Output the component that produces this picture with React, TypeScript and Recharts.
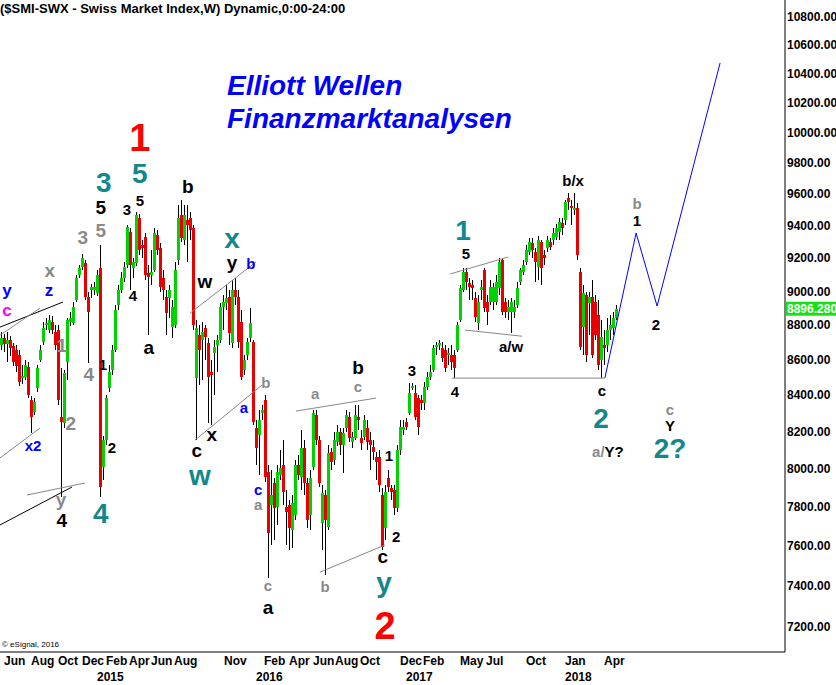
import React from "react";
import {
  ComposedChart,
  Bar,
  Line,
  XAxis,
  YAxis,
  ReferenceLine,
  ReferenceDot,
} from "recharts";

// weekly SMI candles (week 0 = first visible bar)
const opens = [
  8684, 8724, 8689, 8712, 8678, 8655, 8627, 8495, 8501, 8558,
  8372, 8305, 8439, 8598, 8701, 8800, 8771, 8817, 8759, 8771,
  8278, 8245, 8587, 8817, 8811, 8948, 9098, 9146, 9171, 8966,
  9007, 9007, 8989, 9140, 8007, 8152, 8439, 8541, 8655, 8918,
  9007, 9080, 9159, 9362, 9140, 9171, 9449, 9281, 9331, 9110,
  9098, 9128, 9343, 9262, 9080, 8966, 8960, 8788, 8800, 9189,
  9468, 9312, 9436, 9449, 9386, 8495, 8741, 8712, 8783, 8695,
  8530, 8638, 8684, 8712, 8906, 8930, 8966, 8695, 9007, 8966,
  8817, 8541, 8627, 8724, 8701, 8218, 8180, 8300, 8372, 7980,
  7808, 7923, 7798, 7965, 8018, 7798, 7808, 7679, 7756, 8018,
  7954, 8109, 7923, 7756, 8007, 8289, 8152, 7715, 7860, 7695,
  8087, 8045, 8142, 8196, 8125, 8218, 8278, 8142, 8163, 8278,
  8163, 8169, 8218, 8152, 8114, 8061, 8061, 7860, 7690, 7949,
  7897, 7886, 7792, 8098, 8207, 8250, 8300, 8439, 8411, 8383,
  8372, 8355, 8445, 8501, 8541, 8672, 8684, 8666, 8655, 8627,
  8627, 8627, 8655, 8829, 9007, 9116, 9050, 9037, 8960, 8811,
  9007, 9128, 8936, 8936, 8936, 8936, 9019, 9189, 8936, 8876,
  8876, 8876, 8918, 9056, 9116, 9177, 9238, 9293, 9238, 9146,
  9300, 9220, 9262, 9300, 9312, 9331, 9362, 9418, 9436, 9575,
  9524, 9499, 9511, 9116, 8788, 8977, 8930, 8966, 8936, 8859,
  8598, 8684, 8684, 8771, 8783, 8841,
];
const closes = [
  8724, 8689, 8712, 8666, 8587, 8564, 8473, 8507, 8570, 8400,
  8278, 8361, 8553, 8655, 8783, 8811, 8829, 8771, 8684, 8372,
  8250, 8524, 8829, 8841, 8906, 9080, 9140, 9201, 8966, 8876,
  9025, 9025, 9098, 7902, 8152, 8383, 8530, 8655, 8888, 9007,
  9080, 9146, 9393, 9159, 9177, 9468, 9250, 9262, 9098, 9086,
  9116, 9355, 9250, 9025, 9007, 8870, 9007, 8906, 9128, 9449,
  9324, 9468, 9405, 9374, 8800, 8783, 8655, 8759, 8730, 8501,
  8513, 8672, 8712, 8906, 8936, 8960, 8753, 9007, 8966, 8701,
  8501, 8598, 8701, 8811, 8250, 8109, 8261, 8316, 7954, 7664,
  7860, 7792, 7980, 8002, 7876, 7772, 7690, 7818, 8018, 7965,
  8109, 7923, 7731, 7949, 8300, 8152, 7923, 7871, 7731, 8082,
  8034, 8152, 8196, 8125, 8191, 8289, 8163, 8169, 8289, 8261,
  8136, 8261, 8142, 8125, 8087, 8034, 7912, 7592, 7876, 7902,
  7876, 7792, 8098, 8223, 8223, 8223, 8411, 8450, 8278, 8223,
  8355, 8445, 8501, 8530, 8666, 8684, 8695, 8610, 8553, 8638,
  8587, 8553, 8800, 9019, 9116, 9056, 9025, 9019, 8847, 8936,
  9025, 8900, 8876, 9025, 9025, 9056, 9177, 8876, 8876, 8906,
  8936, 8906, 9019, 9128, 9159, 9250, 9300, 9250, 9177, 9312,
  9140, 9201, 9312, 9269, 9355, 9386, 9424, 9386, 9549, 9549,
  9511, 9511, 9220, 8672, 8989, 8627, 8966, 8627, 8741, 8570,
  8730, 8666, 8771, 8800, 8841, 8896.28,
];
const highs = [
  8759, 8747, 8759, 8735, 8695, 8684, 8655, 8570, 8598, 8587,
  8394, 8383, 8570, 8684, 8817, 8841, 8859, 8853, 8800, 8800,
  8553, 8541, 8841, 8876, 8936, 9098, 9159, 9226, 9189, 8995,
  9044, 9056, 9128, 9281, 8174, 8400, 8570, 8684, 8918, 9037,
  9116, 9177, 9405, 9386, 9201, 9486, 9474, 9312, 9355, 9159,
  9250, 9386, 9374, 9293, 9128, 9007, 9037, 8948, 9177, 9530,
  9562, 9530, 9530, 9486, 9405, 8829, 8800, 8817, 8800, 8724,
  8598, 8712, 8741, 8930, 8977, 9037, 9007, 9068, 9080, 9007,
  8888, 8627, 8724, 8900, 8712, 8261, 8316, 8344, 8400, 8018,
  7991, 7949, 8018, 8098, 8152, 7886, 7834, 7860, 8045, 8071,
  8207, 8152, 7949, 7991, 8316, 8316, 8174, 7912, 7886, 8125,
  8109, 8196, 8234, 8218, 8218, 8316, 8305, 8196, 8344, 8344,
  8207, 8289, 8261, 8196, 8152, 8087, 8098, 7897, 7912, 7991,
  7912, 7912, 8125, 8261, 8261, 8272, 8467, 8467, 8456, 8400,
  8400, 8473, 8530, 8570, 8684, 8701, 8712, 8701, 8684, 8666,
  8684, 8655, 8817, 9037, 9140, 9140, 9080, 9068, 8995, 8977,
  9068, 9140, 8977, 9068, 9050, 9098, 9201, 9201, 8960, 8948,
  8960, 8948, 9056, 9140, 9189, 9281, 9324, 9324, 9262, 9336,
  9312, 9250, 9336, 9324, 9386, 9411, 9449, 9449, 9562, 9607,
  9562, 9607, 9543, 9140, 9037, 8995, 8995, 9068, 8977, 8948,
  8829, 8771, 8841, 8859, 8876, 8918,
];
const lows = [
  8655, 8644, 8587, 8621, 8564, 8530, 8450, 8462, 8484, 8383,
  8191, 8289, 8417, 8587, 8684, 8771, 8753, 8747, 8655, 8344,
  7850, 8218, 8484, 8794, 8800, 8936, 9080, 9128, 8948, 8581,
  8960, 8977, 8972, 7850, 7939, 8125, 8417, 8513, 8644, 8888,
  8989, 9056, 9140, 9007, 9080, 9152, 9220, 9201, 9068, 8741,
  9037, 9116, 9220, 8995, 8948, 8741, 8841, 8724, 8783, 9159,
  9300, 9281, 9177, 9312, 8771, 8152, 8456, 8484, 8598, 8245,
  8234, 8400, 8530, 8695, 8771, 8888, 8684, 8666, 8918, 8666,
  8484, 8513, 8598, 8701, 8234, 8018, 7965, 8261, 7928, 7438,
  7603, 7628, 7705, 7939, 7808, 7603, 7577, 7587, 7731, 7939,
  7886, 7860, 7690, 7679, 7991, 8125, 7902, 7577, 7452, 7679,
  7991, 8018, 8120, 8071, 7975, 8196, 8142, 8109, 8152, 8207,
  8098, 8152, 8098, 7991, 8045, 7939, 7876, 7577, 7628, 7876,
  7834, 7756, 7772, 8071, 8180, 8207, 8289, 8428, 8261, 8180,
  8316, 8316, 8428, 8484, 8530, 8627, 8655, 8587, 8530, 8570,
  8541, 8495, 8644, 8817, 8995, 9007, 8948, 8948, 8817, 8771,
  8948, 8876, 8800, 8918, 8888, 8918, 8977, 8859, 8841, 8829,
  8753, 8841, 8900, 9037, 9098, 9159, 9220, 9201, 9056, 9068,
  9037, 9159, 9238, 9250, 9281, 9312, 9312, 9343, 9405, 9499,
  9405, 9468, 9189, 8655, 8627, 8587, 8741, 8610, 8712, 8541,
  8495, 8570, 8644, 8712, 8741, 8829,
];

// month / year labels start at these week positions
const monthTicks = [1, 10, 19, 27, 35, 42.67, 50, 57.67, 74.33, 87.67, 96, 104, 111.33, 119.67, 133, 140.67, 153, 161.67, 175, 188, 201];
const monthLabels = ["Jun", "Aug", "Oct", "Dec", "Feb", "Apr", "Jun", "Aug", "Nov", "Feb", "Apr", "Jun", "Aug", "Oct", "Dec", "Feb", "May", "Jul", "Oct", "Jan", "Apr"];
const yearTicks = [32, 85, 135, 188];
const yearLabels = ["2015", "2016", "2017", "2018"];
const priceTicks = [7200, 7400, 7600, 7800, 8000, 8200, 8400, 8600, 8800, 9000, 9200, 9400, 9600, 9800, 10000, 10200, 10400, 10600, 10800];

// projected path (blue)
const projWeeks = [201.3, 211.7, 218.7, 239.7];
const projPrices = [8496, 9355, 8912, 10475];

// channel / trend lines: [week1, price1, week2, price2, colour]
const trendLines: [number, number, number, number, string][] = [
  [-0.33, 8788, 20.67, 8936, "#000"],
  [-0.33, 8741, 13, 8900, "#888"],
  [-0.33, 8056, 13, 8218, "#888"],
  [-0.33, 7705, 23.67, 7902, "#000"],
  [8.67, 7860, 28, 7923, "#888"],
  [63, 8870, 85, 9177, "#888"],
  [64.67, 8152, 87, 8456, "#888"],
  [98.3, 8311, 125, 8383, "#888"],
  [106.3, 7467, 128, 7603, "#888"],
  [150.3, 8495, 201.3, 8495, "#888"],
  [149.7, 9104, 169, 9207, "#888"],
  [154.7, 8771, 173.7, 8735, "#888"],
];

const RED = "#ff0000";
const TEAL = "#13888a";
const GRAY = "#8a8a8a";
const BLUE = "#0000ff";

const labelStyles: Record<string, { fill: string; size: number }> = {
  R: { fill: RED, size: 38 },
  T: { fill: TEAL, size: 28 },
  K: { fill: "#000", size: 15 },
  KL: { fill: "#000", size: 19 },
  G: { fill: GRAY, size: 15 },
  GL: { fill: GRAY, size: 19 },
  B: { fill: BLUE, size: 15 },
  BL: { fill: BLUE, size: 17 },
  M: { fill: "#ff00ff", size: 17 },
};

// wave labels: [text, week, price, style]
const waveLabels: [string, number, number, string][] = [
  ["1", 46.3, 9965, "R"],
  ["5", 46.3, 9730, "T"],
  ["3", 34.3, 9678, "T"],
  ["5", 46.3, 9560, "K"],
  ["5", 33.3, 9518, "KL"],
  ["3", 42, 9505, "K"],
  ["3", 27.3, 9330, "GL"],
  ["5", 33.3, 9374, "GL"],
  ["x", 16.3, 9128, "GL"],
  ["z", 16, 9007, "BL"],
  ["y", 2, 9007, "BL"],
  ["c", 2, 8888, "M"],
  ["1", 20.3, 8684, "GL"],
  ["4", 29.3, 8513, "GL"],
  ["4", 44, 8977, "K"],
  ["1", 34, 8575, "K"],
  ["2", 23.3, 8245, "GL"],
  ["x2", 10.7, 8125, "B"],
  ["2", 37, 8114, "K"],
  ["y", 20, 7834, "GL"],
  ["4", 20.3, 7726, "KL"],
  ["4", 33.3, 7762, "T"],
  ["a", 49.3, 8672, "KL"],
  ["b", 62.3, 9652, "KL"],
  ["w", 68, 9056, "KL"],
  ["x", 77, 9324, "T"],
  ["y", 77, 9171, "KL"],
  ["b", 83.3, 9165, "B"],
  ["b", 88.3, 8473, "G"],
  ["a", 81, 8333, "B"],
  ["x", 70.3, 8185, "KL"],
  ["c", 65.3, 8098, "KL"],
  ["w", 66.3, 7965, "T"],
  ["c", 85.7, 7891, "B"],
  ["a", 85.7, 7808, "G"],
  ["c", 89, 7399, "G"],
  ["a", 89, 7295, "KL"],
  ["2", 128, 7204, "R"],
  ["a", 104.7, 8411, "G"],
  ["b", 119, 8558, "KL"],
  ["c", 119, 8450, "G"],
  ["b", 108, 7394, "G"],
  ["1", 129.3, 8071, "K"],
  ["2", 131.7, 7645, "K"],
  ["c", 127.3, 7545, "KL"],
  ["y", 127.7, 7418, "T"],
  ["3", 137, 8541, "K"],
  ["4", 151.3, 8422, "K"],
  ["1", 154, 9374, "T"],
  ["5", 155, 9226, "K"],
  ["a/w", 170, 8678, "K"],
  ["b/x", 190.7, 9685, "K"],
  ["c", 200.3, 8428, "K"],
  ["2", 200, 8272, "T"],
  ["b", 212, 9543, "G"],
  ["1", 212, 9436, "K"],
  ["2", 218.3, 8806, "K"],
  ["c", 223, 8322, "G"],
  ["Y", 223, 8234, "K"],
  ["2?", 223, 8109, "T"],
];

const FONT = "'Liberation Sans', Arial, sans-serif";

const candles = opens.map((o, i) => ({
  k: i,
  open: o,
  close: closes[i],
  high: Math.max(highs[i], o, closes[i]),
  low: Math.min(lows[i], o, closes[i]),
}));
const projection = projWeeks.map((k, i) => ({ k, v: projPrices[i] }));
const lastClose = closes[closes.length - 1];

function Candle(props: any) {
  const { x, y, width, height, payload } = props;
  if (x == null || y == null || !payload) return null;
  const top = Math.min(y, y + height);
  const bot = Math.max(y, y + height);
  const lh = Math.log(payload.high);
  const ll = Math.log(payload.low);
  const py = (v: number) => (lh === ll ? top : top + ((bot - top) * (lh - Math.log(v))) / (lh - ll));
  const cx = Math.round(x + width / 2);
  const yo = py(payload.open);
  const yc = py(payload.close);
  const bt = Math.round(Math.min(yo, yc));
  const bb = Math.max(Math.round(Math.max(yo, yc)), bt + 1);
  const up = payload.close >= payload.open;
  return (
    <g>
      <line x1={cx + 0.5} x2={cx + 0.5} y1={Math.round(top)} y2={Math.round(bot)} stroke="#000" strokeWidth={1} />
      <rect x={cx - 1} y={bt} width={3} height={bb - bt} fill={up ? "#00d200" : "#e80000"} />
    </g>
  );
}

function MonthTick(props: any) {
  const { x, y, payload } = props;
  const i = monthTicks.indexOf(payload.value);
  return (
    <text x={x} y={y + 13} textAnchor="start" fontFamily={FONT} fontWeight="bold" fontSize={12} fill="#000">
      {monthLabels[i]}
    </text>
  );
}

function YearTick(props: any) {
  const { x, y, payload } = props;
  const i = yearTicks.indexOf(payload.value);
  return (
    <text x={x} y={y + 13} textAnchor="start" fontFamily={FONT} fontWeight="bold" fontSize={12} fill="#000">
      {yearLabels[i]}
    </text>
  );
}

function PriceTag(props: any) {
  const vb = props.viewBox;
  if (!vb) return null;
  const x = vb.x + vb.width + 1;
  return (
    <g>
      <rect x={x} y={vb.y - 7} width={52} height={14} fill="#16e016" />
      <text x={x + 1} y={vb.y + 4.5} fontFamily={FONT} fontWeight="bold" fontSize={12} fill="#fff">
        {lastClose.toFixed(3)}
      </text>
    </g>
  );
}

function waveShape(text: string, style: string) {
  return (p: any) => {
    const st = labelStyles[style];
    return (
      <text
        x={p.cx}
        y={p.cy}
        textAnchor="middle"
        dominantBaseline="central"
        fontFamily={FONT}
        fontWeight="bold"
        fontSize={st.size}
        fill={st.fill}
      >
        {text}
      </text>
    );
  };
}

function AYShape(p: any) {
  return (
    <text x={p.cx} y={p.cy} textAnchor="middle" dominantBaseline="central" fontFamily={FONT} fontWeight="bold" fontSize={15}>
      <tspan fill={GRAY}>a/</tspan>
      <tspan fill="#000">Y?</tspan>
    </text>
  );
}

export default function App() {
  return (
    <div style={{ position: "absolute", left: 0, top: 0, width: 836, height: 685, background: "#fff", fontFamily: FONT }}>
      <ComposedChart width={836} height={685} data={candles} margin={{ top: 0, right: 0, bottom: 0, left: 0 }}>
        <XAxis
          dataKey="k"
          type="number"
          domain={[-1 / 3, 261.333]}
          allowDataOverflow
          ticks={monthTicks}
          tick={<MonthTick />}
          tickLine={false}
          tickSize={0}
          tickMargin={0}
          interval={0}
          axisLine={{ stroke: "#000", strokeWidth: 1 }}
          height={16}
        />
        <XAxis
          xAxisId="yr"
          dataKey="k"
          type="number"
          domain={[-1 / 3, 261.333]}
          allowDataOverflow
          ticks={yearTicks}
          tick={<YearTick />}
          tickLine={false}
          tickSize={0}
          tickMargin={0}
          interval={0}
          axisLine={false}
          height={17}
        />
        <YAxis
          orientation="right"
          scale="log"
          type="number"
          domain={[7081, 10923]}
          allowDataOverflow
          ticks={priceTicks}
          interval={0}
          tickFormatter={(v: number) => v.toFixed(2)}
          tick={{ fill: "#000", fontSize: 12, fontWeight: "bold", fontFamily: FONT, textAnchor: "start" }}
          tickLine={false}
          tickSize={0}
          tickMargin={2}
          axisLine={{ stroke: "#000", strokeWidth: 1 }}
          width={51}
        />
        {trendLines.map(([k1, p1, k2, p2, c], i) => (
          <ReferenceLine
            key={"t" + i}
            segment={[
              { x: k1, y: p1 },
              { x: k2, y: p2 },
            ]}
            stroke={c}
            strokeWidth={1}
            ifOverflow="visible"
          />
        ))}
        <Bar
          dataKey={(d: any) => [d.low, d.high]}
          barSize={3}
          shape={<Candle />}
          isAnimationActive={false}
        />
        <Line
          data={projection}
          dataKey="v"
          type="linear"
          stroke={BLUE}
          strokeWidth={1}
          dot={false}
          activeDot={false}
          isAnimationActive={false}
        />
        <ReferenceLine y={lastClose} stroke="none" ifOverflow="visible" label={<PriceTag />} />
        {waveLabels.map(([t, k, p, s], i) => (
          <ReferenceDot key={"w" + i} x={k} y={p} r={0} ifOverflow="visible" shape={waveShape(t, s)} />
        ))}
        <ReferenceDot x={202.3} y={8093} r={0} ifOverflow="visible" shape={AYShape} />
      </ComposedChart>
      <div style={{ position: "absolute", left: 0, top: 1, fontSize: 13, fontWeight: "bold", whiteSpace: "nowrap", lineHeight: "15px" }}>
        ($SMI-SWX - Swiss Market Index,W) Dynamic,0:00-24:00
      </div>
      <div style={{ position: "absolute", left: 227, top: 70, fontSize: 28, fontWeight: "bold", fontStyle: "italic", color: BLUE, lineHeight: "32px", whiteSpace: "nowrap" }}>
        Elliott Wellen
      </div>
      <div style={{ position: "absolute", left: 227, top: 103, fontSize: 28, fontWeight: "bold", fontStyle: "italic", color: BLUE, lineHeight: "32px", whiteSpace: "nowrap" }}>
        Finanzmarktanalysen
      </div>
      <div style={{ position: "absolute", left: 2, top: 640, fontSize: 8, whiteSpace: "nowrap", lineHeight: "10px" }}>
        © eSignal, 2016
      </div>
    </div>
  );
}
